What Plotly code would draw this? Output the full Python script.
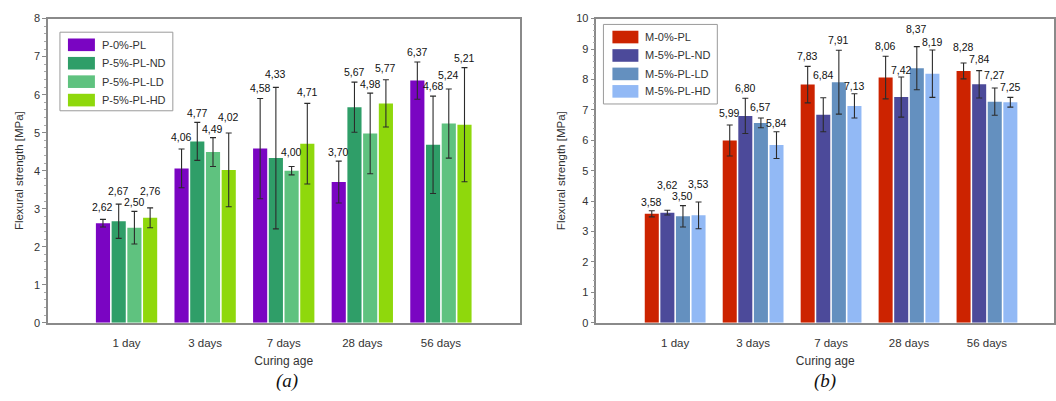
import plotly.graph_objects as go

# Curing ages shared by both panels
ages = ["1 day", "3 days", "7 days", "28 days", "56 days"]

# Panel (a): paste series
p_names = ["P-0%-PL", "P-5%-PL-ND", "P-5%-PL-LD", "P-5%-PL-HD"]
p_0 = [2.62, 4.06, 4.58, 3.70, 6.37]
p_0_err = [0.10, 0.51, 1.32, 0.55, 0.49]
p_nd = [2.67, 4.77, 4.33, 5.67, 4.68]
p_nd_err = [0.45, 0.50, 1.86, 0.66, 1.28]
p_ld = [2.50, 4.49, 4.00, 4.98, 5.24]
p_ld_err = [0.43, 0.38, 0.11, 1.06, 0.91]
p_hd = [2.76, 4.02, 4.71, 5.77, 5.21]
p_hd_err = [0.26, 0.97, 1.06, 0.62, 1.50]

# Panel (b): mortar series
m_names = ["M-0%-PL", "M-5%-PL-ND", "M-5%-PL-LD", "M-5%-PL-HD"]
m_0 = [3.58, 5.99, 7.83, 8.06, 8.28]
m_0_err = [0.10, 0.51, 0.60, 0.70, 0.26]
m_nd = [3.62, 6.80, 6.84, 7.42, 7.84]
m_nd_err = [0.08, 0.58, 0.56, 0.66, 0.45]
m_ld = [3.50, 6.57, 7.91, 8.37, 7.27]
m_ld_err = [0.35, 0.16, 1.05, 0.71, 0.45]
m_hd = [3.53, 5.84, 7.13, 8.19, 7.25]
m_hd_err = [0.44, 0.44, 0.40, 0.78, 0.16]

# Vertical lift (px) of each value label above its error-bar cap,
# staggered so neighbouring labels do not collide
p_lift = [[12, 12, 10, 9, 10], [13, 9, 13, 10, 10],
          [9, 9, 14, 9, 14], [17, 16, 11, 12, 10]]
m_lift = [[9, 12, 10, 10, 16], [25, 10, 23, 7, 12],
          [10, 11, 10, 18, 13], [18, 9, 8, 8, 10]]

p_colors = ["#7a05c2", "#2f9e68", "#5fc27f", "#8fd80c"]
m_colors = ["#cc2300", "#4c4a9a", "#6490bf", "#92b9f5"]

W, H = 1056, 401
FONT = "Liberation Sans, Arial, sans-serif"
TXT = "#333333"

BARGAP = 0.2
NSER = 4
slot = (1 - BARGAP) / NSER

fig = go.Figure()


def add_panel(names, vals, errs, lifts, colors, xa, ya):
    for j, (name, v, e, c) in enumerate(zip(names, vals, errs, colors)):
        fig.add_trace(go.Bar(
            x=list(range(len(ages))), y=v, name=name, marker_color=c,
            marker_line_width=0, xaxis=xa, yaxis=ya, showlegend=False,
            offsetgroup=str(j),
            error_y=dict(type="data", array=e, color="#2b2b2b",
                         thickness=1.1, width=3),
        ))
        off = -(1 - BARGAP) / 2 + slot * (j + 0.5)
        for i, (val, er) in enumerate(zip(v, e)):
            fig.add_annotation(
                x=i + off, y=val + er, xref=xa, yref=ya,
                text=f"{val:.2f}".replace(".", ","), showarrow=False,
                yanchor="middle", yshift=lifts[j][i],
                font=dict(family=FONT, size=10.5, color="#111111"),
            )


add_panel(p_names, [p_0, p_nd, p_ld, p_hd],
          [p_0_err, p_nd_err, p_ld_err, p_hd_err], p_lift, p_colors, "x", "y")
add_panel(m_names, [m_0, m_nd, m_ld, m_hd],
          [m_0_err, m_nd_err, m_ld_err, m_hd_err], m_lift, m_colors, "x2", "y2")

y_dom = [(H - 326.5) / H, (H - 13) / H]
xa_common = dict(
    tickmode="array", tickvals=list(range(len(ages))), ticktext=ages,
    showline=True, linecolor="#8a8a8a", linewidth=1.5, mirror=True,
    ticks="", tickfont=dict(family=FONT, size=11.5, color=TXT),
    ticklabelstandoff=9, showgrid=False, zeroline=False,
    title=dict(text="Curing age", font=dict(family=FONT, size=12, color=TXT),
               standoff=8),
)
ya_common = dict(
    showline=True, linecolor="#8a8a8a", linewidth=1.5, mirror=True,
    ticks="outside", ticklen=4, tickcolor="#8a8a8a", dtick=1,
    tickfont=dict(family=FONT, size=11, color=TXT),
    minor=dict(ticks="outside", ticklen=2, dtick=0.2, tickcolor="#aaaaaa"),
    showgrid=False, zeroline=False, domain=y_dom,
    title=dict(text="Flexural strength [MPa]",
               font=dict(family=FONT, size=11.5, color=TXT), standoff=8),
)

fig.update_layout(
    width=W, height=H, margin=dict(l=0, r=0, t=0, b=0),
    paper_bgcolor="white", plot_bgcolor="white",
    barmode="group", bargap=BARGAP, bargroupgap=0.1,
    xaxis=dict(xa_common, domain=[48 / W, 520 / W], range=[-1.0, 5.0],
               anchor="y"),
    yaxis=dict(ya_common, range=[0, 8], anchor="x"),
    xaxis2=dict(xa_common, domain=[597 / W, 1055 / W], range=[-1.01, 4.86],
                anchor="y2"),
    yaxis2=dict(ya_common, range=[0, 10], anchor="x2"),
)


# Legend boxes drawn with shapes and text (wide colour swatches)
def px_x(v):
    return v / W


def px_y(v):
    return 1 - v / H


def legend(x0, y0, x1, y1, names, colors, row_y, sw_x0, sw_x1):
    fig.add_shape(type="rect", xref="paper", yref="paper",
                  x0=px_x(x0), x1=px_x(x1), y0=px_y(y0), y1=px_y(y1),
                  line=dict(color="#9a9a9a", width=1), fillcolor="white",
                  layer="above")
    for name, c, ry in zip(names, colors, row_y):
        fig.add_shape(type="rect", xref="paper", yref="paper",
                      x0=px_x(sw_x0), x1=px_x(sw_x1),
                      y0=px_y(ry + 6.5), y1=px_y(ry - 6.5),
                      line=dict(width=0), fillcolor=c, layer="above")
        fig.add_annotation(x=px_x(sw_x1 + 5), y=px_y(ry), xref="paper",
                           yref="paper", text=name, showarrow=False,
                           xanchor="left", yanchor="middle",
                           font=dict(family=FONT, size=11, color=TXT))


legend(60, 27, 173, 108, p_names, p_colors, [40, 59, 78, 97], 68, 95)
legend(604, 19, 718, 101, m_names, m_colors, [32, 51, 70, 88], 613, 639)

# Panel captions
for cap, cx in (("(a)", 287), ("(b)", 826)):
    fig.add_annotation(x=px_x(cx), y=px_y(387), xref="paper", yref="paper",
                       text=f"<i>{cap}</i>", showarrow=False,
                       font=dict(family="Liberation Serif, Times New Roman, serif",
                                 size=19, color="#111111"),
                       xanchor="center", yanchor="middle")

fig.write_html("out.html")
